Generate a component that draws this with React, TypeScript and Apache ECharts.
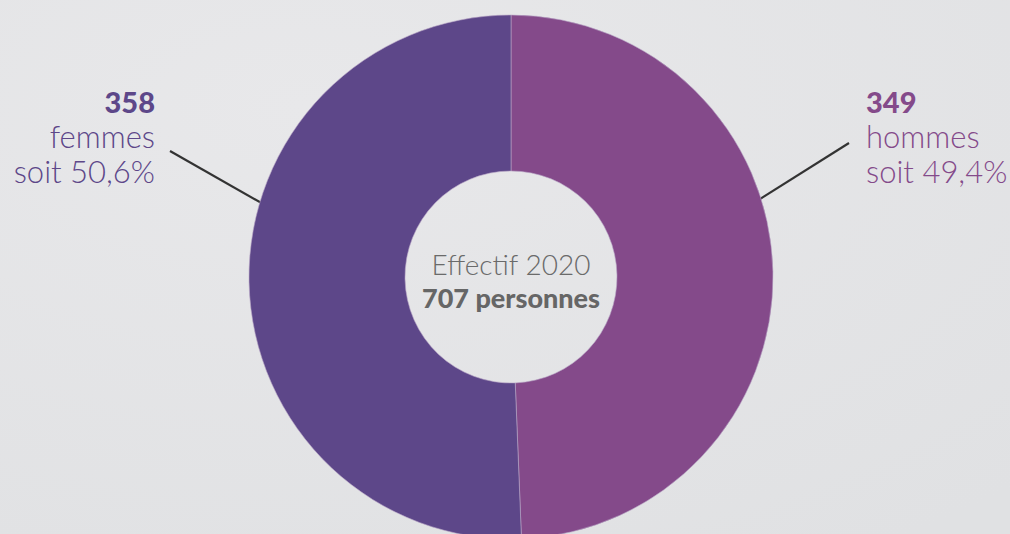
import React, { useEffect, useRef } from "react";
import * as echarts from "echarts";

const categories = ["hommes", "femmes"];
const values = [349, 358];
const colors = ["#844a8a", "#5d4789"];
const centerTitle = "Effectif 2020";
const centerUnit = "personnes";

export default function App() {
  const ref = useRef<HTMLDivElement>(null);
  useEffect(() => {
    if (!ref.current) return;
    const chart = echarts.init(ref.current, undefined, { renderer: "svg" });
    const total = values.reduce((a, b) => a + b, 0);
    const pct = (v: number) => ((v / total) * 100).toFixed(1).replace(".", ",") + "%";
    const font = "Lato, sans-serif";
    const labelBlock = (i: number, x: number, align: "left" | "right") => [
      { type: "text", x, y: 101, style: { text: String(values[i]), font: `900 29px ${font}`, fill: colors[i], align, verticalAlign: "middle" } },
      { type: "text", x, y: 136, style: { text: categories[i], font: `300 31px ${font}`, fill: colors[i], align, verticalAlign: "middle" } },
      { type: "text", x, y: 171, style: { text: "soit " + pct(values[i]), font: `300 31px ${font}`, fill: colors[i], align, verticalAlign: "middle" } },
    ];
    chart.setOption({
      animation: false,
      backgroundColor: {
        type: "radial", x: 0.3, y: 0.2, r: 1,
        colorStops: [{ offset: 0, color: "#e8e8ea" }, { offset: 1, color: "#e0e1e3" }],
      },
      series: [
        {
          type: "pie",
          center: [511, 277],
          radius: [106, 262],
          startAngle: 90,
          clockwise: true,
          silent: true,
          label: { show: false },
          labelLine: { show: false },
          itemStyle: { borderColor: "#b9a6c6", borderWidth: 0.6 },
          data: categories.map((c, i) => ({ name: c, value: values[i], itemStyle: { color: colors[i] } })),
        },
      ],
      graphic: [
        ...labelBlock(1, 155, "right"),
        ...labelBlock(0, 866, "left"),
        { type: "line", shape: { x1: 170, y1: 151, x2: 272, y2: 209 }, style: { stroke: "#333333", lineWidth: 2.2 } },
        { type: "line", shape: { x1: 849, y1: 143, x2: 749, y2: 206 }, style: { stroke: "#333333", lineWidth: 2.2 } },
        { type: "text", x: 511, y: 264, style: { text: centerTitle, font: `300 28px ${font}`, fill: "#6a6a6a", align: "center", verticalAlign: "middle" } },
        { type: "text", x: 511, y: 297, style: { text: `${total} ${centerUnit}`, font: `900 27px ${font}`, fill: "#666666", align: "center", verticalAlign: "middle" } },
      ],
    });
    return () => chart.dispose();
  }, []);
  return <div ref={ref} style={{ position: "absolute", left: 0, top: 0, width: 1010, height: 534 }} />;
}
